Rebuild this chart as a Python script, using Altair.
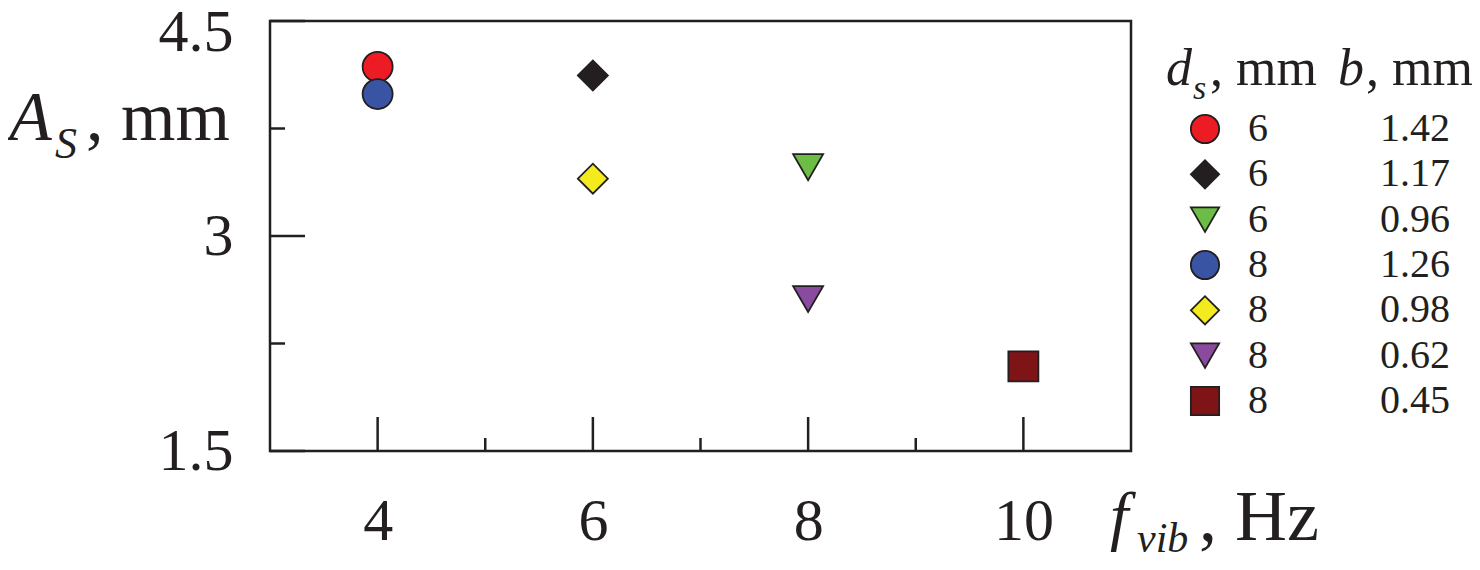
import altair as alt
import pandas as pd

FONT = "Liberation Serif"
INK = "#231F20"

# ---- data ----
freq = [4, 6, 8, 4, 6, 8, 10]
amp = [4.18, 4.12, 3.48, 3.99, 3.40, 2.56, 2.09]
ds = ["6", "6", "6", "8", "8", "8", "8"]
bw = ["1.42", "1.17", "0.96", "1.26", "0.98", "0.62", "0.45"]
series = ["s1", "s2", "s3", "s4", "s5", "s6", "s7"]
rows = [0, 1, 2, 3, 4, 5, 6]

x_major = [4, 6, 8, 10]
x_minor = [5, 7, 9]
y_major = [1.5, 3, 4.5]
y_minor = [2.25, 3.75]

# ---- styles ----
shapes = ["circle", "diamond", "triangle-down", "circle", "diamond", "triangle-down", "square"]
colors = ["#ED1C24", "#231F20", "#6CBD45", "#3A54A4", "#F4EB1E", "#8A4B9E", "#7E1416"]

W, H = 861, 430

df = pd.DataFrame({"f": freq, "A": amp, "ds": ds, "b": bw, "series": series, "row": rows})

xs = alt.Scale(domain=[3, 11], nice=False, zero=False)
ys = alt.Scale(domain=[1.5, 4.5], nice=False, zero=False)
shape_scale = alt.Scale(domain=series, range=shapes)
fill_scale = alt.Scale(domain=series, range=colors)

xaxis = alt.Axis(values=x_major, ticks=False, domain=False, grid=False,
                 labelFont=FONT, labelFontSize=60, labelColor=INK, labelPadding=41,
                 labelExpr="'' + datum.value", labelFlush=False, labelOverlap=False, title=None)
yaxis = alt.Axis(values=y_major, ticks=False, domain=False, grid=False,
                 labelFont=FONT, labelFontSize=60, labelColor=INK, labelPadding=37,
                 labelOffset=alt.condition("datum.value == 4.5", alt.value(11), alt.value(0)),
                 labelExpr="'' + datum.value", labelFlush=False, labelOverlap=False, title=None)

points = alt.Chart(df).mark_point(filled=True, size=900, stroke=INK, strokeWidth=1.8, opacity=1).encode(
    x=alt.X("f:Q", scale=xs, axis=xaxis),
    y=alt.Y("A:Q", scale=ys, axis=yaxis),
    shape=alt.Shape("series:N", scale=shape_scale, legend=None),
    fill=alt.Fill("series:N", scale=fill_scale, legend=None),
)

def xticks(vals, length):
    return alt.Chart(pd.DataFrame({"v": vals})).mark_rule(color=INK, strokeWidth=2.5).encode(
        x=alt.X("v:Q", scale=xs, axis=xaxis), y=alt.value(H), y2=alt.value(H - length))

def yticks(vals, length):
    return alt.Chart(pd.DataFrame({"v": vals})).mark_rule(color=INK, strokeWidth=2.5).encode(
        y=alt.Y("v:Q", scale=ys, axis=yaxis), x=alt.value(0), x2=alt.value(length))

one = pd.DataFrame({"k": [0]})

def txt(s, x, y, size, italic=False, align="left"):
    return alt.Chart(one).mark_text(text=s, font=FONT, fontSize=size,
                                    fontStyle="italic" if italic else "normal",
                                    align=align, baseline="alphabetic", color=INK).encode(
        x=alt.value(x), y=alt.value(y))

titles = [
    txt("A", -261, 119, 70, italic=True),
    txt("S", -215, 137, 44, italic=True),
    txt(", mm", -184, 119, 70),
    txt("f", 840, 517, 66, italic=True),
    txt("vib", 867, 531, 42, italic=True),
    txt(", Hz", 929, 519, 72),
]

main = alt.layer(xticks(x_major, 34), xticks(x_minor, 13), yticks(y_major, 35), yticks(y_minor, 15),
                 points, *titles)

ly = alt.Scale(domain=[0, 6], range=[108, 380])
leg_sym = alt.Chart(df).mark_point(filled=True, size=800, stroke=INK, strokeWidth=1.8, opacity=1).encode(
    x=alt.value(935),
    y=alt.Y("row:Q", scale=ly, axis=None),
    shape=alt.Shape("series:N", scale=shape_scale, legend=None),
    fill=alt.Fill("series:N", scale=fill_scale, legend=None),
)
leg_ds = alt.Chart(df).mark_text(font=FONT, fontSize=40, align="center", baseline="middle", color=INK).encode(
    x=alt.value(988), y=alt.Y("row:Q", scale=ly, axis=None), text="ds:N")
leg_b = alt.Chart(df).mark_text(font=FONT, fontSize=40, align="right", baseline="middle", color=INK).encode(
    x=alt.value(1180), y=alt.Y("row:Q", scale=ly, axis=None), text="b:N")

header = [
    txt("d", 896, 64, 52, italic=True),
    txt("s", 923, 78, 34, italic=True),
    txt(", mm", 940, 64, 52),
    txt("b", 1068, 64, 52, italic=True),
    txt(", mm", 1096, 64, 52),
]

legend = alt.layer(leg_sym, leg_ds, leg_b, *header)

chart = alt.layer(main, legend).resolve_scale(y="independent").properties(
    width=W, height=H,
    autosize=alt.AutoSizeParams(type="none"),
    padding={"left": 262, "top": 13, "right": 341, "bottom": 111},
).configure_view(stroke=INK, strokeWidth=2.5)

chart.save("out.html", embed_options={"renderer": "svg", "actions": False})
